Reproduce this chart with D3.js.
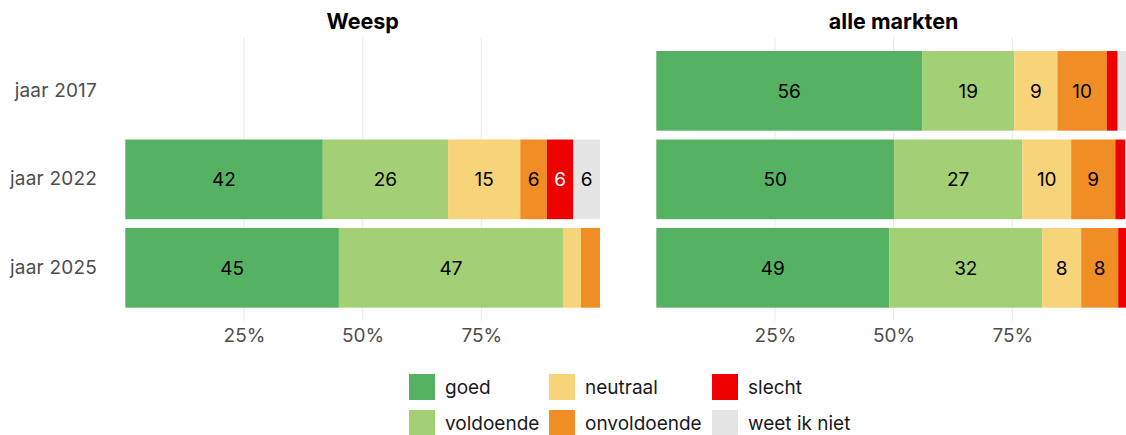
<!DOCTYPE html>
<html>
<head>
<meta charset="utf-8">
<script src="https://cdn.jsdelivr.net/npm/d3@7"></script>
<style>
  html, body { margin: 0; padding: 0; background: #fff; overflow: hidden; }
  svg { display: block; font-family: "Inter", "Lato", sans-serif; }
</style>
</head>
<body>
<svg id="chart" width="1126" height="435"></svg>
<script>
// ---- data ----
const panels = ["Weesp", "alle markten"];
const years = ["jaar 2017", "jaar 2022", "jaar 2025"];
const categories = ["goed", "voldoende", "neutraal", "onvoldoende", "slecht", "weet ik niet"];
const colors = ["#55b263", "#a3cf75", "#f7d379", "#f18d25", "#ee0000", "#e5e5e5"];
const tickValues = [25, 50, 75];
const tickLabels = ["25%", "50%", "75%"];

// shares (%) per category, in category order; null = no data for that year
const weesp2017 = null;
const weesp2022 = [41.6, 26.4, 15.2, 5.6, 5.6, 5.6];
const weesp2025 = [45.0, 47.2, 3.8, 4.0, 0, 0];
const alle2017 = [56.0, 19.4, 9.1, 10.4, 2.3, 2.8];
const alle2022 = [50.1, 27.0, 10.3, 9.3, 2.1, 1.2];
const alle2025 = [49.1, 32.2, 8.2, 7.8, 2.0, 0.7];

const panelData = [
  [weesp2017, weesp2022, weesp2025],
  [alle2017, alle2022, alle2025]
];

// ---- layout ----
const svg = d3.select("#chart");
const fontSize = 19;
const panelX = [[125.3, 600], [656.3, 1131]];
const y = d3.scaleBand().domain(years).range([46.6, 312.1]).paddingInner(0.1).paddingOuter(0.05);
const color = d3.scaleOrdinal().domain(categories).range(colors);

panels.forEach((p, pi) => {
  const x = d3.scaleLinear().domain([0, 100]).range(panelX[pi]);
  const g = svg.append("g");

  // gridlines
  g.selectAll("line.grid").data(tickValues).join("line")
    .attr("x1", d => x(d)).attr("x2", d => x(d))
    .attr("y1", 37).attr("y2", 321)
    .attr("stroke", "#ebebeb").attr("stroke-width", 1.1);

  // title
  g.append("text")
    .attr("x", (panelX[pi][0] + panelX[pi][1]) / 2)
    .attr("y", 29)
    .attr("text-anchor", "middle")
    .attr("font-weight", 700)
    .attr("font-size", 21.5)
    .attr("fill", "#000")
    .text(p);

  // bars
  years.forEach((yr, yi) => {
    const vals = panelData[pi][yi];
    if (!vals) return;
    let cum = 0;
    const segs = vals.map((v, ci) => {
      const s = { cat: categories[ci], v, x0: cum, x1: cum + v };
      cum += v;
      return s;
    }).filter(s => s.v > 0);
    const row = g.append("g");
    row.selectAll("rect").data(segs).join("rect")
      .attr("x", d => x(d.x0))
      .attr("width", d => x(d.x1) - x(d.x0))
      .attr("y", y(yr))
      .attr("height", y.bandwidth())
      .attr("fill", d => color(d.cat));
    row.selectAll("text").data(segs.filter(d => d.v >= 5)).join("text")
      .attr("x", d => (x(d.x0) + x(d.x1)) / 2)
      .attr("y", y(yr) + y.bandwidth() / 2)
      .attr("dy", "0.36em")
      .attr("text-anchor", "middle")
      .attr("font-size", fontSize)
      .attr("fill", d => d.cat === "slecht" ? "#fff" : "#000")
      .text(d => Math.round(d.v));
  });

  // x axis
  const axis = d3.axisBottom(x).tickValues(tickValues).tickFormat((d, i) => tickLabels[i]).tickSize(0).tickPadding(0);
  const ax = g.append("g").attr("transform", "translate(0,322)").call(axis);
  ax.select(".domain").remove();
  ax.selectAll("text")
    .attr("font-family", "Inter, Lato, sans-serif")
    .attr("font-size", fontSize)
    .attr("fill", "#4d4d4d")
    .attr("y", 7)
    .attr("dy", "0.71em");
});

// y axis labels (left panel only)
const yAxis = d3.axisLeft(y).tickSize(0).tickPadding(0);
const ya = svg.append("g").attr("transform", "translate(97,0)").call(yAxis);
ya.select(".domain").remove();
ya.selectAll("text")
  .attr("font-family", "Inter, Lato, sans-serif")
  .attr("font-size", fontSize)
  .attr("letter-spacing", "0.2px")
  .attr("fill", "#4d4d4d");

// legend (column-major, 2 rows x 3 columns)
const legX = [409, 549, 712];
const legY = [374, 410];
const leg = svg.append("g");
categories.forEach((c, i) => {
  const col = Math.floor(i / 2), row = i % 2;
  const lg = leg.append("g").attr("transform", `translate(${legX[col]},${legY[row]})`);
  lg.append("rect").attr("width", 26).attr("height", 26).attr("fill", color(c));
  lg.append("text")
    .attr("x", 36).attr("y", 13).attr("dy", "0.36em")
    .attr("font-size", fontSize).attr("fill", "#1a1a1a")
    .text(c);
});
</script>
</body>
</html>
